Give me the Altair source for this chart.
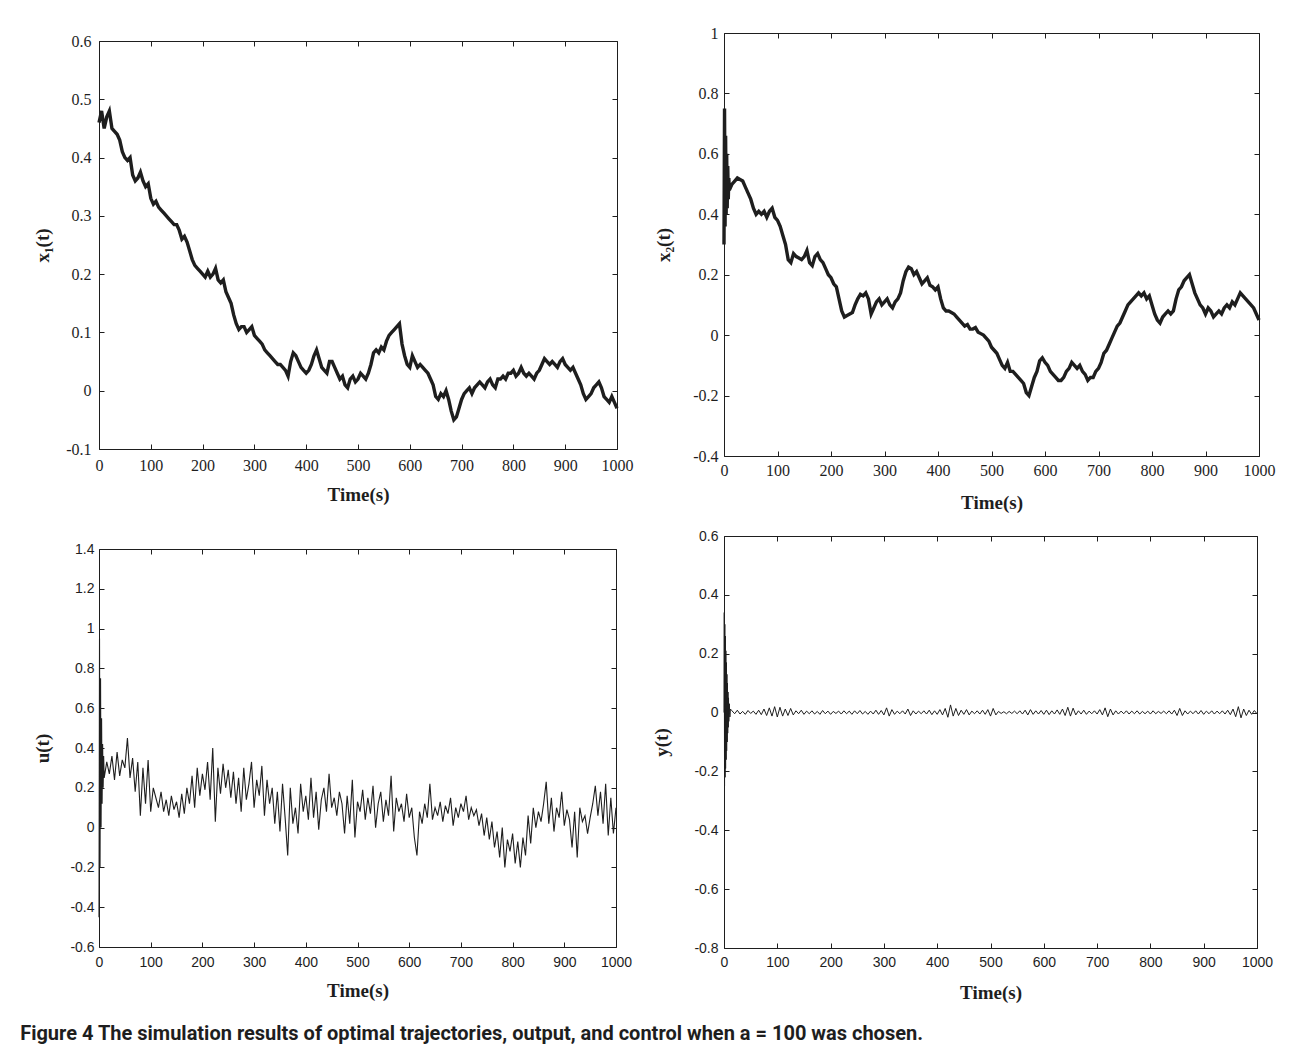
import altair as alt
import pandas as pd

# ---------------- data ----------------
X_TICKS = [0, 100, 200, 300, 400, 500, 600, 700, 800, 900, 1000]
X1_YTICKS = [-0.1, 0, 0.1, 0.2, 0.3, 0.4, 0.5, 0.6]
X2_YTICKS = [-0.4, -0.2, 0, 0.2, 0.4, 0.6, 0.8, 1]
U_YTICKS = [-0.6, -0.4, -0.2, 0, 0.2, 0.4, 0.6, 0.8, 1, 1.2, 1.4]
Y_YTICKS = [-0.8, -0.6, -0.4, -0.2, 0, 0.2, 0.4, 0.6]

# x1(t), sampled every 5 s from 0 to 1000
X1_T = list(range(0, 1001, 5))
X1 = [
    0.46, 0.48, 0.45, 0.47, 0.48, 0.45, 0.445, 0.44, 0.43, 0.41,
    0.40, 0.395, 0.40, 0.37, 0.36, 0.365, 0.375, 0.36, 0.35, 0.355,
    0.33, 0.32, 0.325, 0.315, 0.31, 0.305, 0.30, 0.295, 0.29, 0.285,
    0.285, 0.275, 0.26, 0.265, 0.255, 0.24, 0.225, 0.215, 0.21, 0.205,
    0.20, 0.195, 0.205, 0.195, 0.20, 0.21, 0.19, 0.185, 0.19, 0.17,
    0.16, 0.15, 0.13, 0.115, 0.105, 0.11, 0.11, 0.10, 0.105, 0.11,
    0.095, 0.09, 0.085, 0.08, 0.07, 0.065, 0.06, 0.055, 0.05, 0.045,
    0.045, 0.04, 0.035, 0.025, 0.05, 0.065, 0.06, 0.05, 0.04, 0.035,
    0.03, 0.035, 0.045, 0.06, 0.07, 0.055, 0.04, 0.035, 0.03, 0.05,
    0.05, 0.04, 0.03, 0.02, 0.025, 0.01, 0.005, 0.02, 0.025, 0.015,
    0.02, 0.03, 0.025, 0.02, 0.03, 0.045, 0.065, 0.07, 0.065, 0.075,
    0.07, 0.085, 0.095, 0.10, 0.105, 0.11, 0.115, 0.08, 0.06, 0.045,
    0.04, 0.06, 0.05, 0.04, 0.045, 0.04, 0.035, 0.03, 0.02, 0.01,
    -0.01, -0.015, -0.005, -0.01, 0.0, -0.015, -0.035, -0.05, -0.045, -0.03,
    -0.015, -0.005, 0.0, 0.005, -0.005, 0.005, 0.01, 0.015, 0.01, 0.005,
    0.015, 0.02, 0.01, 0.005, 0.02, 0.02, 0.025, 0.02, 0.03, 0.03,
    0.035, 0.025, 0.03, 0.04, 0.03, 0.025, 0.03, 0.025, 0.02, 0.03,
    0.035, 0.045, 0.055, 0.05, 0.045, 0.05, 0.045, 0.04, 0.05, 0.055,
    0.045, 0.04, 0.035, 0.04, 0.03, 0.02, 0.01, -0.005, -0.015, -0.01,
    -0.005, 0.005, 0.01, 0.015, 0.005, -0.01, -0.015, -0.02, -0.01, -0.02,
    -0.03,
]

# x2(t): start transient 0..9 s, then every 5 s
X2_T = [0, 1, 2, 3, 4, 5, 6, 7, 8, 9] + list(range(10, 1001, 5))
X2 = [
    0.30, 0.75, 0.36, 0.66, 0.40, 0.60, 0.42, 0.56, 0.45, 0.52,
    0.48, 0.50, 0.51, 0.52, 0.515, 0.51, 0.49, 0.47, 0.45, 0.42,
    0.40, 0.41, 0.40, 0.41, 0.39, 0.41, 0.42, 0.39, 0.38, 0.36,
    0.33, 0.30, 0.25, 0.24, 0.27, 0.26, 0.255, 0.25, 0.26, 0.28,
    0.24, 0.23, 0.26, 0.27, 0.25, 0.24, 0.22, 0.20, 0.19, 0.17,
    0.16, 0.12, 0.08, 0.06, 0.065, 0.07, 0.075, 0.10, 0.12, 0.135,
    0.13, 0.14, 0.12, 0.07, 0.09, 0.11, 0.12, 0.10, 0.11, 0.12,
    0.10, 0.09, 0.11, 0.12, 0.14, 0.18, 0.21, 0.225, 0.22, 0.20,
    0.21, 0.19, 0.17, 0.18, 0.19, 0.165, 0.16, 0.15, 0.16, 0.12,
    0.09, 0.08, 0.08, 0.075, 0.07, 0.06, 0.05, 0.04, 0.03, 0.035,
    0.02, 0.02, 0.025, 0.01, 0.005, 0.0, -0.01, -0.02, -0.04, -0.05,
    -0.06, -0.08, -0.10, -0.11, -0.09, -0.12, -0.12, -0.13, -0.14, -0.15,
    -0.16, -0.19, -0.20, -0.17, -0.14, -0.12, -0.085, -0.075, -0.09, -0.10,
    -0.12, -0.13, -0.14, -0.15, -0.15, -0.14, -0.12, -0.11, -0.09, -0.10,
    -0.11, -0.10, -0.12, -0.13, -0.15, -0.14, -0.14, -0.12, -0.11, -0.09,
    -0.06, -0.05, -0.03, -0.01, 0.01, 0.03, 0.04, 0.06, 0.08, 0.10,
    0.11, 0.12, 0.13, 0.14, 0.13, 0.14, 0.12, 0.13, 0.10, 0.07,
    0.05, 0.04, 0.06, 0.07, 0.08, 0.07, 0.08, 0.12, 0.15, 0.16,
    0.18, 0.19, 0.20, 0.17, 0.14, 0.12, 0.10, 0.09, 0.07, 0.09,
    0.08, 0.06, 0.07, 0.08, 0.07, 0.09, 0.10, 0.09, 0.11, 0.10,
    0.12, 0.14, 0.13, 0.12, 0.11, 0.10, 0.09, 0.07, 0.05,
]

# u(t): start transient 0..9 s, then every 5 s
U_T = [0, 1, 2, 3, 4, 5, 6, 7, 8, 9] + list(range(10, 1001, 5))
U = [
    -0.45, 0.95, -0.20, 0.75, 0.00, 0.55, 0.12, 0.42, 0.20, 0.36,
    0.25, 0.33, 0.27, 0.36, 0.24, 0.38, 0.26, 0.34, 0.30, 0.45,
    0.25, 0.35, 0.18, 0.33, 0.06, 0.30, 0.12, 0.34, 0.08, 0.20,
    0.15, 0.10, 0.18, 0.08, 0.14, 0.06, 0.16, 0.09, 0.13, 0.05,
    0.17, 0.07, 0.20, 0.12, 0.26, 0.10, 0.30, 0.16, 0.27, 0.19,
    0.33, 0.14, 0.40, 0.03, 0.30, 0.17, 0.32, 0.20, 0.29, 0.15,
    0.28, 0.12, 0.25, 0.08, 0.30, 0.14, 0.22, 0.33, 0.10, 0.24,
    0.16, 0.31, 0.06, 0.24, 0.12, 0.20, 0.02, 0.18, -0.02, 0.22,
    0.05, -0.14, 0.20, 0.02, 0.10, -0.03, 0.22, 0.08, 0.16, 0.04,
    0.25, 0.05, 0.18, -0.01, 0.14, 0.20, 0.08, 0.27, 0.10, 0.15,
    0.06, 0.18, 0.12, -0.03, 0.16, 0.02, 0.24, -0.05, 0.13, 0.08,
    0.19, 0.04, 0.15, 0.07, 0.21, 0.00, 0.12, 0.18, 0.03, 0.14,
    0.06, 0.26, -0.02, 0.15, 0.08, 0.12, 0.03, 0.17, 0.05, 0.10,
    -0.05, -0.14, 0.08, 0.02, 0.12, 0.05, 0.22, 0.04, 0.10, 0.06,
    0.13, 0.03, 0.11, 0.07, 0.15, 0.01, 0.10, 0.05, 0.12, 0.08,
    0.16, 0.04, 0.10, 0.06, 0.09, 0.01, 0.07, -0.04, 0.05, -0.06,
    0.03, -0.10, -0.02, -0.15, 0.00, -0.20, -0.06, -0.12, -0.03, -0.18,
    -0.07, -0.20, -0.05, -0.14, 0.06, -0.08, 0.10, 0.00, 0.08, 0.03,
    0.12, 0.23, 0.02, 0.15, -0.02, 0.10, 0.05, 0.18, 0.01, 0.09,
    0.04, -0.10, 0.08, -0.15, 0.10, 0.03, 0.06, -0.03, 0.05, 0.12,
    0.21, 0.06, 0.18, 0.02, 0.22, -0.04, 0.15, -0.03, 0.10,
]

# y(t): start transient 0..12 s, then every 5 s from 15
Y_T = [0, 0.5, 1, 1.5, 2, 2.5, 3, 3.5, 4, 4.5, 5, 5.5, 6, 6.5, 7, 7.5,
       8, 8.5, 9, 10, 11, 12] + list(range(15, 1001, 5))
Y = [
    0.0, 0.34, -0.25, 0.30, -0.22, 0.26, -0.19, 0.21, -0.16, 0.17, -0.13,
    0.13, -0.10, 0.10, -0.07, 0.07, -0.05, 0.05, -0.03, 0.03, -0.015, 0.012,
    0.006, -0.004, 0.008, -0.005, 0.004, -0.006, 0.007, -0.003, 0.005, -0.006,
    0.008, -0.007, 0.012, -0.010, 0.016, -0.012, 0.02, -0.015, 0.018, -0.012,
    0.012, -0.01, 0.014, -0.008, 0.006, -0.004, 0.008, -0.006, 0.005, -0.004,
    0.006, -0.005, 0.004, -0.006, 0.007, -0.004, 0.005, -0.006, 0.004, -0.003,
    0.005, -0.005, 0.006, -0.004, 0.005, -0.006, 0.006, -0.004, 0.007, -0.005,
    0.004, -0.006, 0.005, -0.005, 0.008, -0.006, 0.007, -0.008, 0.016, -0.012,
    0.01, -0.006, 0.005, -0.004, 0.006, -0.005, 0.012, -0.01, 0.006, -0.005,
    0.005, -0.004, 0.006, -0.005, 0.008, -0.007, 0.006, -0.006, 0.01, -0.008,
    0.014, -0.016, 0.026, -0.012, 0.014, -0.01, 0.008, -0.006, 0.01, -0.008,
    0.005, -0.004, 0.006, -0.005, 0.008, -0.006, 0.01, -0.012, 0.014, -0.008,
    0.004, -0.003, 0.003, -0.004, 0.004, -0.003, 0.005, -0.004, 0.006, -0.005,
    0.008, -0.008, 0.01, -0.006, 0.006, -0.005, 0.007, -0.006, 0.008, -0.007,
    0.006, -0.005, 0.009, -0.006, 0.012, -0.01, 0.018, -0.012, 0.015, -0.008,
    0.006, -0.005, 0.008, -0.006, 0.005, -0.004, 0.006, -0.005, 0.01, -0.008,
    0.016, -0.014, 0.012, -0.008, 0.006, -0.005, 0.005, -0.004, 0.006, -0.005,
    0.005, -0.004, 0.006, -0.005, 0.004, -0.004, 0.005, -0.005, 0.006, -0.004,
    0.004, -0.003, 0.005, -0.004, 0.006, -0.005, 0.008, -0.01, 0.014, -0.01,
    0.006, -0.005, 0.005, -0.004, 0.006, -0.005, 0.007, -0.006, 0.005, -0.004,
    0.006, -0.005, 0.005, -0.004, 0.006, -0.005, 0.008, -0.007, 0.012, -0.014,
    0.02, -0.018, 0.012, -0.01, 0.008, -0.006, 0.007, -0.004,
]

CAPTION = ("Figure 4 The simulation results of optimal trajectories, output, "
           "and control when a = 100 was chosen.")

# ---------------- styling ----------------
SERIF = "Liberation Serif, Times New Roman, DejaVu Serif, serif"
SANS = "Liberation Sans, Arial, sans-serif"
INK = "#1e1e1e"
FMT = "replace(format(datum.value, '.1~f'), '\u2212', '-')"


def panel(t, v, ytitle, ydom, yticks, w, h, lab_font, lab_size, sw,
          ylab_pad, ytitle_pad, xlab_pad, xtitle_pad):
    df = pd.DataFrame({"t": t, "v": v})
    xs = alt.Scale(domain=[0, 1000], nice=False, zero=False)
    ys = alt.Scale(domain=ydom, nice=False, zero=False)
    common = dict(domain=False, grid=False, tickSize=5, offset=-5,
                  tickColor=INK, tickWidth=1)
    xa = alt.Axis(orient="bottom", values=X_TICKS, format="d",
                  labelFont=lab_font, labelFontSize=lab_size,
                  labelPadding=xlab_pad, labelColor=INK,
                  labelOverlap=False, labelFlush=False,
                  title="Time(s)", titleFont=SERIF, titleFontSize=19,
                  titleFontWeight="bold", titlePadding=xtitle_pad,
                  titleColor=INK, **common)
    ya = alt.Axis(orient="left", values=yticks, labelExpr=FMT,
                  labelFont=lab_font, labelFontSize=lab_size,
                  labelPadding=ylab_pad, labelColor=INK,
                  labelOverlap=False, labelFlush=False,
                  title=ytitle, titleFont=SERIF, titleFontSize=19,
                  titleFontWeight="bold", titlePadding=ytitle_pad,
                  titleColor=INK, **common)
    main = alt.Chart(df).mark_line(color=INK, strokeWidth=sw).encode(
        x=alt.X("t:Q", scale=xs, axis=xa),
        y=alt.Y("v:Q", scale=ys, axis=ya),
    )
    ghost = alt.Chart(df).mark_line(opacity=0).encode(
        x=alt.X("t:Q", scale=xs,
                axis=alt.Axis(orient="top", values=X_TICKS, labels=False,
                              title=None, **common)),
        y=alt.Y("v:Q", scale=ys,
                axis=alt.Axis(orient="right", values=yticks, labels=False,
                              title=None, **common)),
    )
    return alt.layer(main, ghost).resolve_axis(
        x="independent", y="independent").properties(width=w, height=h)


tl = panel(X1_T, X1, "x\u2081(t)", [-0.1, 0.6], X1_YTICKS, 518, 408,
           SERIF, 16, 3.4, 8, 13, 8, 12)
tr = panel(X2_T, X2, "x\u2082(t)", [-0.4, 1], X2_YTICKS, 535, 423,
           SERIF, 16, 3.4, 6, 19, 6, 15)
bl = panel(U_T, U, "u(t)", [-0.6, 1.4], U_YTICKS, 517, 398,
           SANS, 14, 1.1, 5, 17, 8, 12)
br = panel(Y_T, Y, "y(t)", [-0.8, 0.6], Y_YTICKS, 533, 412,
           SANS, 14, 1.0, 6, 22, 7, 14)

# empty strip that lowers the top-left panel a little inside its column
spacer = alt.Chart(pd.DataFrame({"a": [0]})).mark_point(opacity=0).encode(
    x=alt.X("a:Q", axis=None), y=alt.Y("a:Q", axis=None)
).properties(width=1, height=8, view=alt.ViewBackground(strokeOpacity=0))

left_top = alt.vconcat(spacer, tl, spacing=0, bounds="flush")
left_col = alt.vconcat(left_top, bl, spacing=36)
right_col = alt.vconcat(tr, br, spacing=15)

chart = alt.hconcat(left_col, right_col, spacing=18).properties(
    title=alt.TitleParams(
        text=CAPTION, orient="bottom", anchor="start", dx=-13, offset=21,
        font="Liberation Sans Narrow, Roboto, sans-serif", fontSize=20,
        fontWeight="bold", color=INK),
    padding={"left": 12, "top": 16, "right": 5, "bottom": 0},
    background="white",
).configure_view(stroke=INK, strokeWidth=1)

chart.save("out.html", embed_options={"renderer": "svg", "actions": False})
